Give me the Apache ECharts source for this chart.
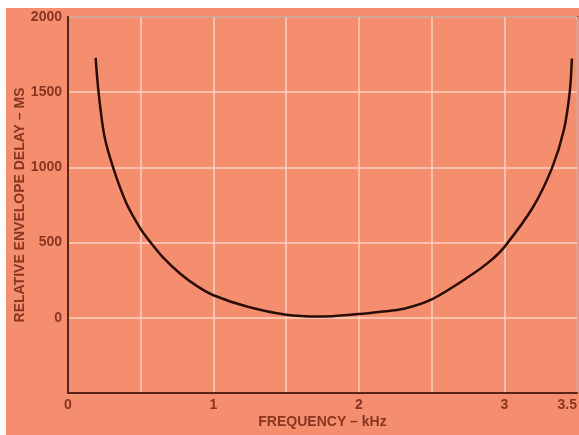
<!DOCTYPE html>
<html><head><meta charset="utf-8">
<script src="https://cdn.jsdelivr.net/npm/echarts@6/dist/echarts.min.js"></script>
<style>
html,body{margin:0;padding:0;background:#fff}
#wrap{position:relative;width:579px;height:435px;background:#fff;overflow:hidden}
#bg{position:absolute;left:6px;top:8px;right:0;bottom:0;background:#f48e6f}
#c{position:absolute;left:0;top:0;width:579px;height:435px}
</style>
</head><body><div id="wrap"><div id="bg"></div><div id="c"></div></div>
<script>
const freqKHz = [0.19, 0.21, 0.25, 0.31, 0.40, 0.50, 0.569, 0.655, 0.77, 0.885, 1.0, 1.23, 1.5, 1.73, 2.0, 2.15, 2.31, 2.5, 2.76, 2.9, 3.0, 3.2, 3.33, 3.41, 3.45, 3.465];
const delayMs = [1728, 1500, 1210, 1000, 765, 590, 500, 400, 295, 212, 150, 75, 20, 8, 25, 40, 60, 122, 276, 375, 470, 740, 1000, 1250, 1500, 1724];
const xTickLabels = ['0', '1', '2', '3', '3.5'];
const yTickLabels = ['0', '500', '1000', '1500', '2000'];

const txt = '#8a3520';
const font = {color: txt, fontFamily: 'Liberation Sans', fontWeight: 'bold', fontSize: 14};
const chart = echarts.init(document.getElementById('c'), null, {renderer: 'canvas'});
chart.setOption({
  backgroundColor: 'transparent',
  animation: false,
  grid: {left: 68, top: 17, right: 2, bottom: 42, outerBoundsMode: 'none', containLabel: false, show: true, borderColor: '#5a2416', borderWidth: 2, backgroundColor: 'transparent'},
  xAxis: {
    type: 'value', min: 0, max: 3.5, interval: 0.5,
    name: 'FREQUENCY – kHz', nameLocation: 'middle', nameGap: 22, nameMoveOverlap: false,
    nameTextStyle: font,
    axisLine: {show: true, onZero: false, lineStyle: {color: '#5a2416', width: 2}},
    axisTick: {show: false},
    splitLine: {show: true, lineStyle: {color: '#fbd2bf', width: 1.5}},
    axisLabel: Object.assign({}, font, {
      margin: 5, alignMaxLabel: 'right',
      formatter: v => { const s = String(v); return xTickLabels.includes(s) ? s : ''; }
    })
  },
  yAxis: {
    type: 'value', min: -500, max: 2000, interval: 500,
    name: 'RELATIVE ENVELOPE DELAY – MS', nameLocation: 'middle', nameGap: 41, nameMoveOverlap: false,
    nameTextStyle: font,
    axisLine: {show: true, onZero: false, lineStyle: {color: '#5a2416', width: 2}},
    axisTick: {show: false},
    splitLine: {show: true, lineStyle: {color: '#fbd2bf', width: 1.5}},
    axisLabel: Object.assign({}, font, {
      margin: 6,
      formatter: v => { const s = String(v); return yTickLabels.includes(s) ? s : ''; }
    })
  },
  series: [{
    type: 'line', smooth: 0.3, symbol: 'none',
    lineStyle: {color: '#2b0d08', width: 2.5},
    data: freqKHz.map((f, i) => [f, delayMs[i]])
  }]
});
</script></body></html>
